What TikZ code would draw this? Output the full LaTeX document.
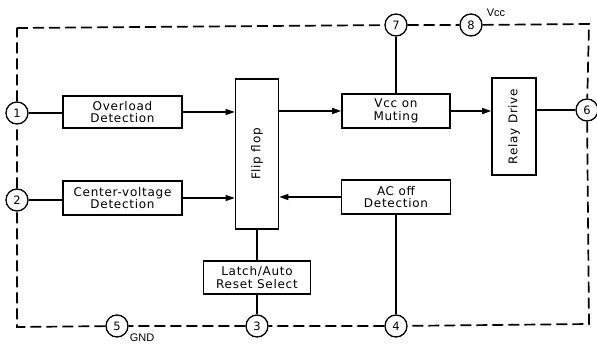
\documentclass[tikz,border=0pt]{standalone}
\usepackage{fontspec}
\setmainfont{DejaVu Sans}[LetterSpace=6]
\newfontfamily\pinfont{DejaVu Sans}
\newfontfamily\lblfont{Liberation Sans}
\usetikzlibrary{arrows.meta}
\begin{document}
\begin{tikzpicture}[x=1pt,y=-1pt,
  blk/.style={draw,line width=1.6pt,align=center,inner sep=0pt,
    font=\fontsize{12}{12.5}\selectfont},
  pin/.style={draw,circle,line width=1.3pt,fill=white,minimum size=22pt,inner sep=0pt,
    font=\pinfont\fontsize{11.5}{12}\selectfont},
  wire/.style={line width=1.1pt},
  arr/.style={line width=1.1pt,-{Triangle[length=9pt,width=6pt]}},
  border/.style={line width=1.7pt,dash pattern=on 11pt off 5pt},
  tag/.style={font=\lblfont\fontsize{11}{12}\selectfont,inner sep=0pt}]
\useasboundingbox (0,0) rectangle (597,344);
% corners of the dashed outline
\coordinate (tl) at (17,28);
\coordinate (tr) at (589,24);
\coordinate (br) at (589,324);
\coordinate (bl) at (17,327);
% pins
\node[pin] (p1) at (17,113) {1};
\node[pin] (p2) at (17,200) {2};
\node[pin] (p3) at (257,326) {3};
\node[pin] (p4) at (396,326) {4};
\node[pin] (p5) at (117,326) {5};
\node[pin] (p6) at (587,110) {6};
\node[pin] (p7) at (396,25) {7};
\node[pin] (p8) at (471,25) {8};
% dashed outline
\draw[border] (tl) -- (p7) -- (p8) -- (tr) -- (p6) -- (br) -- (p4) -- (p3) -- (p5) -- (bl) -- (p2) -- (p1) -- (tl);
% blocks
\node[blk,minimum width=119pt,minimum height=32pt] (ovl) at (122.5,112) {Overload\\Detection};
\node[blk,minimum width=119pt,minimum height=34pt] (cv) at (122.5,198) {Center-voltage\\Detection};
\node[blk,minimum width=43pt,minimum height=150pt] (ff) at (257,154) {\rotatebox{90}{Flip flop}};
\node[blk,minimum width=107pt,minimum height=33pt] (latch) at (257,277.5) {Latch/Auto\\Reset Select};
\node[blk,minimum width=108pt,minimum height=34pt] (vcc) at (396,111) {Vcc on\\Muting};
\node[blk,minimum width=44pt,minimum height=97pt] (relay) at (514,126.5) {\rotatebox{90}{Relay Drive}};
\node[blk,minimum width=109pt,minimum height=34pt] (ac) at (396,197) {AC off\\Detection};
% labels
\node[tag] (vcclbl) at (496,13) {Vcc};
\node[tag] (gndlbl) at (142,338) {GND};
% connectors
\draw[wire] (p1) -- (ovl.west |- p1);
\draw[wire] (p2) -- (cv.west |- p2);
\draw[arr] (ovl.east) -- (ovl.east -| ff.west);
\draw[arr] (cv.east) -- (cv.east -| ff.west);
\draw[arr] (ff.east |- vcc.west) -- (vcc.west);
\draw[arr] (vcc.east) -- (vcc.east -| relay.west);
\draw[wire] (relay.east |- p6) -- (p6);
\draw[arr] (ac.west) -- (ac.west -| ff.east);
\draw[wire] (vcc.north) -- (p7);
\draw[wire] (ac.south) -- (p4);
\draw[wire] (ff.south) -- (latch.north);
\draw[wire] (latch.south) -- (p3);
\end{tikzpicture}
\end{document}
